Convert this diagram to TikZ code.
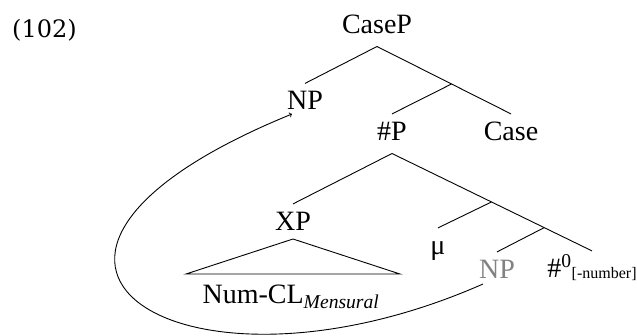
\documentclass[tikz,border=0pt]{standalone}
\usepackage{fontspec}
\setmainfont{Liberation Serif}
\newfontfamily\exnumfont{DejaVu Serif}
\usetikzlibrary{calc}
\definecolor{tracegray}{RGB}{130,130,130}
\tikzset{
  lbl/.style={anchor=base, inner sep=0pt, outer xsep=0pt, outer ysep=6.5pt,
    text height=19.6pt, text depth=7pt, font=\fontsize{28}{32}\selectfont},
  branch/.style={line width=0.9pt}
}

\begin{document}
\begin{tikzpicture}[x=1pt,y=-1pt]
    \useasboundingbox (0,0) rectangle (637,335);

    \node[anchor=base west, inner sep=0pt, font=\exnumfont\fontsize{24}{28}\selectfont] (exnum) at (12,37) {(102)};

    % tree labels
    \node[lbl] (casep) at (377,33) {CaseP};
    \node[lbl] (np) at (305,109.5) {NP};
    \node[lbl] (hashp) at (392,140) {\#P};
    \node[lbl] (case) at (511,140) {Case};
    \node[lbl] (xp) at (293,230) {XP};
    \node[lbl] (mu) at (438,254) {μ};
    \node[lbl, text=tracegray] (npg) at (497,278) {NP};
    \node[lbl] (hashz) at (592,277) {\#\textsuperscript{0}\raisebox{-1pt}{\fontsize{16}{16}\selectfont[-number]}};
    \node[anchor=base, inner sep=0pt, font=\fontsize{28}{32}\selectfont] (numcl) at (291,303)
        {Num-CL\textsubscript{\textit{Mensural}}};

    % branch points
    \coordinate (b1) at ($(casep.south)!0.556!(case.north)$);
    \coordinate (b2) at ($(hashp.south)!0.4975!(hashz.north)$);
    \coordinate (b3) at ($(hashp.south)!0.761!(hashz.north)$);

    \draw[branch] (np.north) -- (casep.south) -- (case.north);
    \draw[branch] (b1) -- (hashp.north);
    \draw[branch] (xp.north) -- (hashp.south) -- (hashz.north);
    \draw[branch] (b2) -- (mu.north);
    \draw[branch] (b3) -- (npg.north);

    % triangle
    \draw[branch] ([yshift=4.5pt]xp.south) -- ++(-107,35) -- ++(214,0) -- cycle;

    % movement
    \draw[branch,->] ([xshift=-14pt,yshift=7.5pt]npg.south)
        .. controls (181,417) and (-66,260) .. ([xshift=-13pt,yshift=9pt]np.south);
\end{tikzpicture}
\end{document}
